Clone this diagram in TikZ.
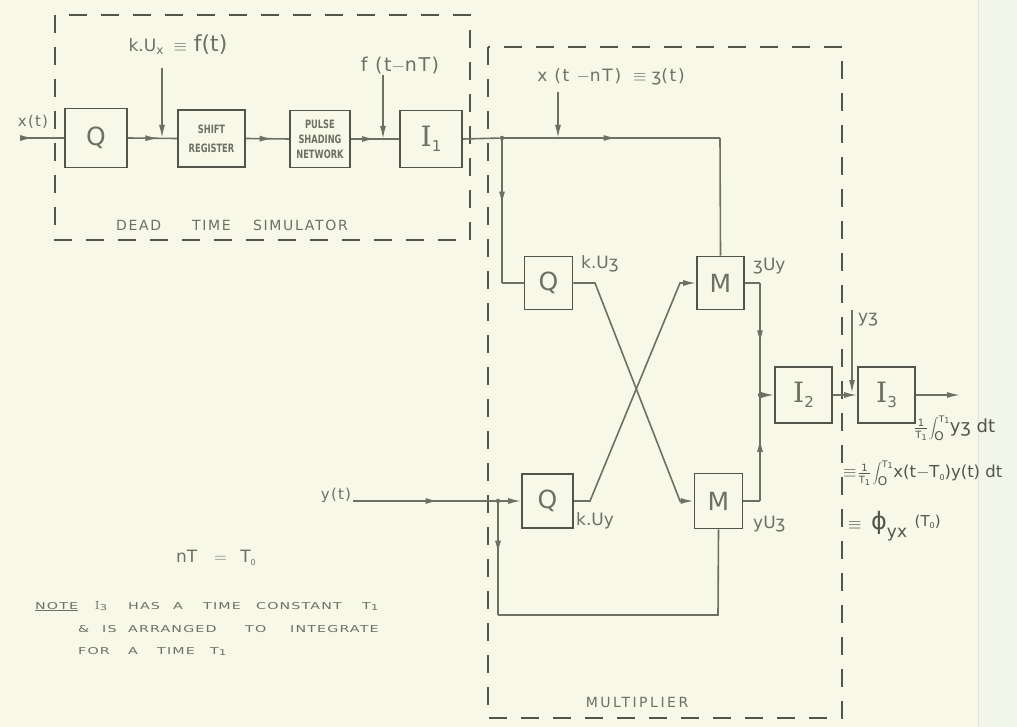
\documentclass[tikz,border=0pt]{standalone}
\usepackage{fontspec}
\setmainfont{DejaVu Sans}
\newfontfamily\sv{DejaVu Serif}
\newfontfamily\dv{DejaVu Sans}
\usetikzlibrary{arrows.meta,decorations.markings}
\definecolor{paper}{RGB}{247,248,232}
\definecolor{paperR}{RGB}{242,246,234}
\definecolor{ink}{RGB}{108,113,98}
\definecolor{inkd}{RGB}{82,86,74}
\newcommand{\zz}{{\dv ʒ}}
\newcommand{\sub}[1]{\raisebox{-0.3ex}{\fontsize{8}{8}\selectfont #1}}
\newcommand{\Ib}[1]{{\sv\fontsize{28}{28}\selectfont I}\raisebox{-0.35ex}{\fontsize{15}{15}\selectfont #1}}
\newcommand{\intTo}{$\frac{\mbox{\fontsize{10}{10}\selectfont 1}}{\mbox{\fontsize{10}{10}\selectfont T\sub{1}}}$\hspace{1pt}$\displaystyle\int_{\mbox{\fontsize{12}{12}\selectfont O}}^{\mbox{\fontsize{9}{9}\selectfont T\sub{1}}}$}
\tikzset{
  blk/.style={draw=inkd, line width=1.7pt, minimum width=#1, inner sep=0pt, text=ink, font=\fontsize{25}{25}\selectfont},
  smallblk/.style={draw=inkd, line width=1.7pt, inner sep=0pt, text=ink, font=\fontsize{11.5}{15}\selectfont\bfseries\addfontfeature{FakeStretch=0.72}, align=center},
  wire/.style={draw=ink, line width=1.6pt},
  frame/.style={draw=inkd, line width=1.6pt, dash pattern=on 18pt off 14pt},
  tip/.style={-{Latex[length=13pt,width=6pt]}},
  flow/.style={decoration={markings, mark=at position #1 with {\arrow{Latex[length=13pt,width=6pt]}}}, postaction={decorate}},
  lbl/.style={text=ink, inner sep=0pt, font=\fontsize{16}{17}\selectfont},
  boxtitle/.style={text=ink, inner sep=0pt, font=\fontsize{14}{14}\selectfont\addfontfeature{LetterSpace=12}},
  nw/.style={text=ink, inner sep=0pt, anchor=base west, font=\fontsize{9.5}{10}\selectfont\addfontfeature{FakeStretch=1.5,LetterSpace=12}},
  dot/.style={circle, fill=ink, inner sep=0pt, minimum size=4.5pt},
}
\begin{document}
\begin{tikzpicture}[x=1pt,y=-1pt]
\useasboundingbox (0,0) rectangle (1017,727);
\fill[paper] (0,0) rectangle (978,727);
\fill[paperR] (978,0) rectangle (1017,727);
\draw[white!80!ink, line width=1pt] (978,0) -- (978,727);

% ---- dashed frames
\draw[frame] (55,15) rectangle (470,240);
\draw[frame] (488,47) rectangle (842,718);
\node[boxtitle] (dts) at (232,225) {DEAD\hspace{2.2em}TIME\hspace{1.6em}SIMULATOR};
\node[boxtitle, font=\fontsize{14}{14}\selectfont\addfontfeature{LetterSpace=18}] (mul) at (637,702) {MULTIPLIER};

% ---- blocks, dead time simulator
\node[blk=62pt, minimum height=59pt] (q1) at (96,138) {Q};
\node[smallblk, minimum width=67pt, minimum height=57pt, font=\fontsize{11.5}{19}\selectfont\bfseries\addfontfeature{FakeStretch=0.72}] (sr) at (211.5,138.5) {SHIFT\\REGISTER};
\node[smallblk, minimum width=60pt, minimum height=57pt] (psn) at (320,139) {PULSE\\SHADING\\NETWORK};
\node[blk=62pt, minimum height=57pt] (i1) at (431,139) {\Ib{1}};

% ---- multiplier blocks
\node[blk=48pt, minimum height=53pt] (qa) at (548.5,283) {Q};
\node[blk=47pt, minimum height=53pt] (ma) at (720.5,283) {M};
\node[blk=51pt, minimum height=54pt] (qb) at (547.5,501) {Q};
\node[blk=48pt, minimum height=55pt] (mb) at (718.5,501) {M};
\node[blk=57pt, minimum height=56pt] (i2) at (803.5,395) {\Ib{2}};
\node[blk=57pt, minimum height=56pt] (i3) at (886.5,395) {\Ib{3}};

% ---- coordinates
\coordinate (xin) at (20,138);
\coordinate (ka) at (162,68);
\coordinate (kb) at (162,138);
\coordinate (fa) at (383,75);
\coordinate (fb) at (383,139);
\node[dot] (j1) at (502,138) {};
\coordinate (tr) at (720,138);
\coordinate (za) at (558,92);
\coordinate (zb) at (558,138);
\coordinate (ql) at (502,283);
\coordinate (qae) at (595,283);
\coordinate (mbw) at (680,501);
\coordinate (qbe) at (590,501);
\coordinate (maw) at (680,283);
\coordinate (mar) at (760,283);
\node[dot] (j2) at (760,395) {};
\coordinate (mbr) at (760,501);
\coordinate (ya) at (852,310);
\coordinate (yb) at (852,393);
\coordinate (out) at (960,395);
\coordinate (yin) at (353,501);
\node[dot] (j3) at (498,501) {};
\coordinate (bl) at (498,615);
\coordinate (br) at (718,615);

% ---- connectors, dead time simulator
\draw[wire, flow=0.3] (xin) -- (q1.west);
\draw[wire, flow=0.62] (q1.east) -- (sr.west);
\draw[wire, tip] (ka) -- (kb);
\draw[wire, flow=0.62] (sr.east) -- (psn.west);
\draw[wire, flow=0.5] (psn.east) -- (i1.west);
\draw[wire, tip] (fa) -- (fb);

% ---- multiplier connectors
\draw[wire] (i1.east) -- (j1);
\draw[wire, flow=0.52] (j1) -- (tr);
\draw[wire] (tr) -- (ma.north);
\draw[wire, tip] (za) -- (zb);
\draw[wire, flow=0.45] (j1) -- (ql);
\draw[wire] (ql) -- (qa.west);
\draw[wire, tip] (qa.east) -- (qae) -- (mbw) -- (mb.west);
\draw[wire, tip] (qb.east) -- (qbe) -- (maw) -- (ma.west);
\draw[wire] (ma.east) -- (mar);
\draw[wire, flow=0.55] (mar) -- (j2);
\draw[wire] (mb.east) -- (mbr);
\draw[wire, flow=0.6] (mbr) -- (j2);
\draw[wire, tip] (j2) -- (i2.west);
\draw[wire, tip] (i2.east) -- (i3.west);
\draw[wire, tip] (ya) -- (yb);
\draw[wire, tip] (i3.east) -- (out);
\draw[wire, flow=0.6] (yin) -- (j3);
\draw[wire, tip] (j3) -- (qb.west);
\draw[wire, flow=0.45] (j3) -- (bl);
\draw[wire] (bl) -- (br) -- (mb.south);

% ---- labels
\node[lbl, font=\fontsize{15}{15}\selectfont\addfontfeature{LetterSpace=8}] (lx) at (33,122) {x(t)};
\node[lbl, font=\fontsize{15}{15}\selectfont\addfontfeature{LetterSpace=8}] (ly) at (336,495) {y(t)};
\node[lbl, font=\fontsize{17}{17}\selectfont] (lk) at (178,45) {k.U\raisebox{-0.3ex}{\fontsize{12}{12}\selectfont x}\hspace{0.6em}$\equiv$\hspace{0.4em}{\fontsize{22}{22}\selectfont f(t)}};
\node[lbl, font=\fontsize{19}{19}\selectfont\addfontfeature{LetterSpace=8}] (lf) at (400,66) {f (t$-$nT)};
\node[lbl, font=\fontsize{17}{17}\selectfont\addfontfeature{LetterSpace=10}] (lz) at (611,77) {x (t $-$nT)\hspace{0.7em}$\equiv$\hspace{0.3em}\zz(t)};
\node[lbl, anchor=west, font=\fontsize{17}{17}\selectfont] (lqa) at (581,264) {k.U\zz};
\node[lbl, anchor=west, font=\fontsize{17}{17}\selectfont] (lma) at (753,266) {\zz Uy};
\node[lbl, anchor=west, font=\fontsize{17}{17}\selectfont] (lqb) at (576,521) {k.Uy};
\node[lbl, anchor=west, font=\fontsize{17}{17}\selectfont] (lmb) at (753,524) {yU\zz};
\node[lbl, anchor=west, font=\fontsize{17}{17}\selectfont] (lyz) at (858,320) {y\zz};
\node[lbl, anchor=west, text=inkd, font=\fontsize{18}{18}\selectfont] (r1) at (914,428) {\intTo y\zz\ dt};
\node[lbl, anchor=west, text=inkd, font=\fontsize{16.5}{16.5}\selectfont] (r2) at (843,473) {$\equiv$\hspace{1pt}\intTo x(t$-$T\sub{0})y(t) dt};
\node[lbl, anchor=west, text=inkd, font=\fontsize{19}{19}\selectfont] (r3) at (848,526) {$\equiv$\hspace{0.5em}{\fontsize{24}{24}\selectfont ϕ}\raisebox{-0.8ex}{\fontsize{17}{17}\selectfont yx}\hspace{0.4em}\raisebox{0.3ex}{\fontsize{15}{15}\selectfont (T\sub{0})}};
\node[lbl, font=\fontsize{17}{17}\selectfont] (nt) at (216,558) {nT\hspace{1em}$=$\hspace{0.8em}T\sub{0}};

% ---- note
\node[nw] (n1a) at (35,609) {\underline{NOTE}};
\node[nw] (n1b) at (95,609) {{\sv\fontsize{11}{11}\selectfont I}\sub{3}};
\node[nw] (n1c) at (128,609) {HAS};
\node[nw] (n1d) at (173,609) {A};
\node[nw] (n1e) at (203,609) {TIME};
\node[nw] (n1f) at (256,609) {CONSTANT};
\node[nw] (n1g) at (362,609) {T\sub{1}};
\node[nw] (n2a) at (78,632) {\&};
\node[nw] (n2b) at (102,632) {IS};
\node[nw] (n2c) at (128,632) {ARRANGED};
\node[nw] (n2d) at (245,632) {TO};
\node[nw] (n2e) at (290,632) {INTEGRATE};
\node[nw] (n3a) at (78,654) {FOR};
\node[nw] (n3b) at (128,654) {A};
\node[nw] (n3c) at (157,654) {TIME};
\node[nw] (n3d) at (210,654) {T\sub{1}};
\end{tikzpicture}
\end{document}
